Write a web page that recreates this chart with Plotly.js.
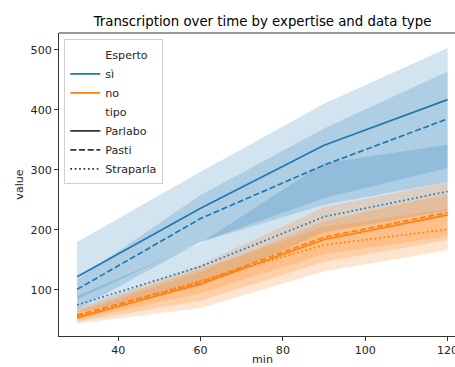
<!DOCTYPE html>
<html>
<head>
<meta charset="utf-8">
<script src="https://cdn.plot.ly/plotly-3.0.1.min.js"></script>
<style>html,body{margin:0;padding:0;background:#fff;}#chart{width:455px;height:367px;}</style>
</head>
<body>
<div id="chart"></div>
<script>
// x values (minutes)
const minutes = [30, 60, 90, 120];

// Esperto = sì
const siParlaboMean = [122, 236, 341, 417];
const siParlaboLo   = [68, 180, 253, 303];
const siParlaboHi   = [180, 297, 410, 503];

const siPastiMean = [101, 219, 308, 385];
const siPastiLo   = [84, 180, 242, 280];
const siPastiHi   = [118, 258, 369, 464];

const siStraparlaMean = [75, 139, 222, 264];
const siStraparlaLo   = [62, 106, 196, 232];
const siStraparlaHi   = [90, 178, 311, 342];

// Esperto = no
const noParlaboMean = [54, 110, 184, 225];
const noParlaboLo   = [47, 82, 147, 183];
const noParlaboHi   = [62, 130, 215, 260];

const noPastiMean = [58, 113, 188, 229];
const noPastiLo   = [50, 95, 160, 190];
const noPastiHi   = [70, 142, 238, 279];

const noStraparlaMean = [56, 115, 175, 201];
const noStraparlaLo   = [44, 70, 131, 166];
const noStraparlaHi   = [66, 135, 205, 235];

const expertLevels = ['sì', 'no'];
const typeLevels = ['Parlabo', 'Pasti', 'Straparla'];
const tickX = [40, 60, 80, 100, 120];
const tickY = [100, 200, 300, 400, 500];

const BLUE = '#1f77b4', ORANGE = '#ff7f0e';
const BLUE_FILL = 'rgba(31,119,180,0.2)', ORANGE_FILL = 'rgba(255,127,14,0.2)';
const DASH = {Parlabo: 'solid', Pasti: '6px,2.7px', Straparla: '1.7px,2.7px'};

const groups = [
  {exp: 'sì', tipo: 'Parlabo', mean: siParlaboMean, lo: siParlaboLo, hi: siParlaboHi},
  {exp: 'sì', tipo: 'Pasti', mean: siPastiMean, lo: siPastiLo, hi: siPastiHi},
  {exp: 'sì', tipo: 'Straparla', mean: siStraparlaMean, lo: siStraparlaLo, hi: siStraparlaHi},
  {exp: 'no', tipo: 'Parlabo', mean: noParlaboMean, lo: noParlaboLo, hi: noParlaboHi},
  {exp: 'no', tipo: 'Pasti', mean: noPastiMean, lo: noPastiLo, hi: noPastiHi},
  {exp: 'no', tipo: 'Straparla', mean: noStraparlaMean, lo: noStraparlaLo, hi: noStraparlaHi}
];

const traces = [];
groups.forEach(g => {
  traces.push({
    x: minutes.concat(minutes.slice().reverse()),
    y: g.hi.concat(g.lo.slice().reverse()),
    type: 'scatter', mode: 'none', fill: 'toself',
    fillcolor: g.exp === 'sì' ? BLUE_FILL : ORANGE_FILL,
    showlegend: false, hoverinfo: 'skip'
  });
});
groups.forEach(g => {
  traces.push({
    x: minutes, y: g.mean, type: 'scatter', mode: 'lines',
    line: {color: g.exp === 'sì' ? BLUE : ORANGE, width: 1.7, dash: DASH[g.tipo]},
    showlegend: false, name: g.exp + ' ' + g.tipo
  });
});

// legend entries
function legendItem(name, color, dash) {
  return {x: [null], y: [null], type: 'scatter', mode: 'lines', name: name,
          line: {color: color, width: 1.7, dash: dash || 'solid'}, showlegend: true};
}
traces.push(legendItem('Esperto', 'rgba(0,0,0,0)'));
traces.push(legendItem(expertLevels[0], BLUE));
traces.push(legendItem(expertLevels[1], ORANGE));
traces.push(legendItem('tipo', 'rgba(0,0,0,0)'));
typeLevels.forEach(t => traces.push(legendItem(t, '#333333', DASH[t])));

const font = {family: 'DejaVu Sans, sans-serif', size: 11.1, color: '#262626'};

const layout = {
  width: 455, height: 367,
  margin: {l: 59, r: 0, t: 33, b: 31, pad: 0},
  paper_bgcolor: '#fff', plot_bgcolor: '#fff',
  font: font,
  title: {text: 'Transcription over time by expertise and data type',
          font: {family: 'DejaVu Sans, sans-serif', size: 13.3, color: '#000'},
          xref: 'container', x: 262.5 / 455, xanchor: 'center',
          yref: 'container', y: 1 - 21 / 367, yanchor: 'middle'},
  xaxis: {range: [25.6, 121.8], tickvals: tickX, ticktext: tickX.map(String),
          showgrid: false, zeroline: false, showline: true, linecolor: '#333', linewidth: 1,
          ticks: 'outside', ticklen: 4, tickcolor: '#333', tickwidth: 1,
          ticklabeloverflow: 'allow', automargin: false,
          tickfont: font},
  yaxis: {range: [23.3, 528], tickvals: tickY, ticktext: tickY.map(String),
          showgrid: false, zeroline: false, showline: true, linecolor: '#333', linewidth: 1,
          ticks: 'outside', ticklen: 4, tickcolor: '#333', tickwidth: 1, automargin: false,
          tickfont: font, title: {text: 'value', font: font, standoff: 4}},
  annotations: [{text: 'min', xref: 'paper', yref: 'paper', x: 0.514, y: -0.079,
                 xanchor: 'center', yanchor: 'middle', showarrow: false, font: font}],
  shapes: [{type: 'line', xref: 'paper', yref: 'paper', x0: 0, x1: 1.05, y0: 1, y1: 1,
            line: {color: '#333', width: 1}}],
  showlegend: true,
  legend: {x: 0.0134, y: 0.979, xanchor: 'left', yanchor: 'top',
           bgcolor: 'rgba(255,255,255,0.8)', bordercolor: '#d0d0d0', borderwidth: 1,
           font: font, tracegroupgap: 0}
};

Plotly.newPlot('chart', traces, layout, {displayModeBar: false, staticPlot: true});
</script>
</body>
</html>
